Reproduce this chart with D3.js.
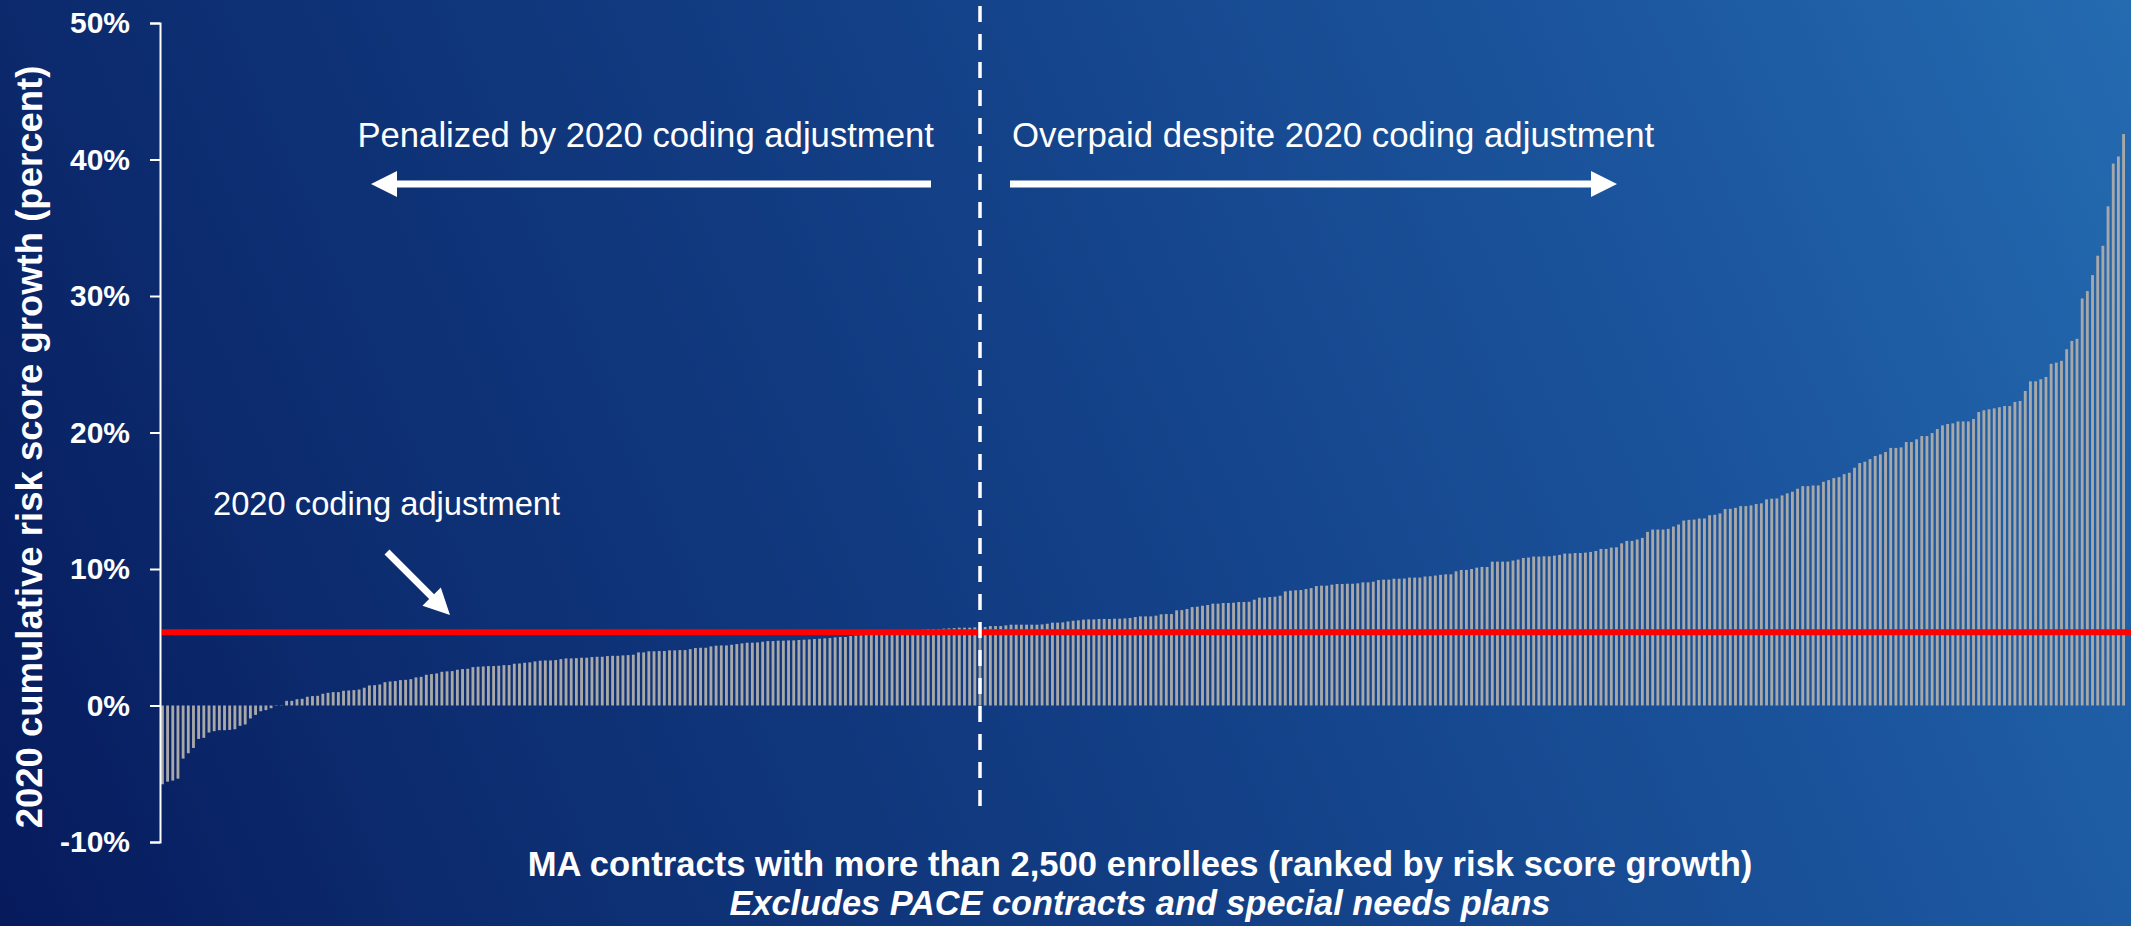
<!DOCTYPE html>
<html>
<head>
<meta charset="utf-8">
<script src="https://d3js.org/d3.v7.min.js"></script>
<style>
  body { margin: 0; overflow: hidden; background: #0b2665; }
  svg { display: block; }
  text { font-family: Arial, "Liberation Sans", sans-serif; fill: #fff; }
</style>
</head>
<body>
<svg id="chart" width="2131" height="926"></svg>
<script>

// cumulative 2020 risk score growth (percent), one value per MA contract, ranked
var riskGrowth = [
  -5.77, -5.58, -5.50, -5.36, -3.89, -3.50, -3.11, -2.45, -2.37, -1.98,
  -1.88, -1.81, -1.81, -1.79, -1.74, -1.49, -1.39, -0.95, -0.69, -0.42,
  -0.34, -0.20, -0.03, 0.02, 0.34, 0.34, 0.46, 0.49, 0.64, 0.69,
  0.71, 0.86, 0.93, 0.98, 0.98, 1.08, 1.10, 1.13, 1.17, 1.30,
  1.47, 1.49, 1.54, 1.71, 1.76, 1.79, 1.86, 1.88, 1.93, 2.06,
  2.10, 2.25, 2.30, 2.35, 2.47, 2.50, 2.52, 2.62, 2.67, 2.69,
  2.81, 2.84, 2.86, 2.89, 2.89, 2.91, 2.96, 2.96, 3.06, 3.08,
  3.13, 3.16, 3.23, 3.28, 3.30, 3.30, 3.33, 3.40, 3.45, 3.45,
  3.47, 3.50, 3.50, 3.55, 3.57, 3.57, 3.62, 3.64, 3.64, 3.67,
  3.69, 3.72, 3.89, 3.89, 3.97, 3.97, 3.99, 3.99, 4.04, 4.04,
  4.06, 4.06, 4.13, 4.21, 4.23, 4.23, 4.33, 4.38, 4.40, 4.40,
  4.45, 4.50, 4.55, 4.60, 4.60, 4.62, 4.67, 4.72, 4.72, 4.75,
  4.75, 4.77, 4.77, 4.80, 4.82, 4.84, 4.87, 4.89, 4.92, 4.94,
  4.99, 5.02, 5.02, 5.09, 5.12, 5.14, 5.17, 5.20, 5.21, 5.25,
  5.27, 5.31, 5.33, 5.36, 5.41, 5.44, 5.50, 5.56, 5.60, 5.60,
  5.60, 5.63, 5.65, 5.67, 5.70, 5.70, 5.70, 5.72, 5.75, 5.75,
  5.82, 5.82, 5.82, 5.87, 5.92, 5.92, 5.92, 5.92, 5.92, 5.92,
  5.94, 5.99, 6.07, 6.07, 6.09, 6.16, 6.21, 6.24, 6.29, 6.31,
  6.31, 6.34, 6.34, 6.34, 6.36, 6.36, 6.38, 6.41, 6.48, 6.53,
  6.53, 6.53, 6.58, 6.68, 6.70, 6.70, 6.97, 6.99, 7.07, 7.21,
  7.24, 7.31, 7.36, 7.46, 7.46, 7.51, 7.51, 7.53, 7.58, 7.58,
  7.60, 7.75, 7.90, 7.90, 7.95, 7.97, 8.04, 8.36, 8.41, 8.44,
  8.46, 8.53, 8.60, 8.75, 8.78, 8.78, 8.85, 8.90, 8.90, 8.92,
  8.92, 8.95, 9.02, 9.02, 9.07, 9.19, 9.22, 9.22, 9.29, 9.29,
  9.30, 9.37, 9.37, 9.37, 9.45, 9.47, 9.52, 9.57, 9.61, 9.61,
  9.83, 9.93, 9.93, 10.00, 10.10, 10.15, 10.15, 10.54, 10.54, 10.54,
  10.54, 10.62, 10.69, 10.81, 10.84, 10.91, 10.91, 10.93, 10.93, 10.98,
  11.03, 11.13, 11.13, 11.17, 11.17, 11.20, 11.25, 11.32, 11.47, 11.47,
  11.57, 11.59, 11.88, 12.06, 12.06, 12.16, 12.28, 12.72, 12.89, 12.89,
  12.89, 12.94, 13.11, 13.26, 13.55, 13.60, 13.62, 13.70, 13.70, 13.94,
  13.97, 14.07, 14.39, 14.41, 14.48, 14.61, 14.61, 14.66, 14.76, 14.81,
  15.10, 15.15, 15.17, 15.39, 15.54, 15.66, 15.88, 16.07, 16.07, 16.12,
  16.12, 16.39, 16.51, 16.66, 16.73, 16.95, 17.05, 17.42, 17.76, 17.86,
  18.05, 18.28, 18.40, 18.57, 18.87, 18.87, 18.91, 19.30, 19.30, 19.50,
  19.74, 19.74, 19.96, 20.25, 20.52, 20.62, 20.67, 20.81, 20.81, 20.81,
  20.99, 21.50, 21.63, 21.70, 21.77, 21.85, 21.94, 21.94, 22.24, 22.31,
  23.04, 23.75, 23.75, 23.90, 24.07, 25.03, 25.12, 25.25, 26.10, 26.71,
  26.86, 29.82, 30.36, 31.53, 32.95, 33.68, 36.57, 39.70, 40.22, 41.86
];
var contractRank = d3.range(1, riskGrowth.length + 1);
var yTicks = [-10, 0, 10, 20, 30, 40, 50];
var codingAdjustment = 5.36;   // 2020 coding adjustment (red line)
var splitRank = 159;           // contract where the dashed divider sits

var svg = d3.select("#chart"),
  width = +svg.attr("width"),
  height = +svg.attr("height");

// background gradient, dark navy bottom-left to lighter blue top-right
var defs = svg.append("defs");
var grad = defs.append("linearGradient")
  .attr("id", "bg")
  .attr("gradientUnits", "userSpaceOnUse")
  .attr("x1", 0).attr("y1", height)
  .attr("x2", width).attr("y2", 0);
grad.append("stop").attr("offset", "0").attr("stop-color", "#061a5c");
grad.append("stop").attr("offset", "0.18").attr("stop-color", "#0c2b6e");
grad.append("stop").attr("offset", "0.5").attr("stop-color", "#134087");
grad.append("stop").attr("offset", "0.8").attr("stop-color", "#1c579f");
grad.append("stop").attr("offset", "1").attr("stop-color", "#246bb0");
svg.append("rect").attr("width", width).attr("height", height).attr("fill", "url(#bg)");

var x = d3.scaleBand()
  .domain(contractRank)
  .range([161, 2125])
  .paddingInner(0.45)
  .paddingOuter(0);

var y = d3.scaleLinear()
  .domain([-10, 50])
  .range([842, 23]);

// bars
svg.append("g")
  .selectAll("rect")
  .data(riskGrowth)
  .enter()
  .append("rect")
    .attr("x", function(d, i) { return x(contractRank[i]); })
    .attr("width", x.bandwidth())
    .attr("y", function(d) { return y(Math.max(0, d)); })
    .attr("height", function(d) { return Math.abs(y(d) - y(0)); })
    .attr("fill", "#a8a8a8");

// coding adjustment line
svg.append("line")
  .attr("x1", 162).attr("x2", width)
  .attr("y1", y(codingAdjustment)).attr("y2", y(codingAdjustment))
  .attr("stroke", "#ff0000")
  .attr("stroke-width", 6);

// dashed divider
var splitX = x(splitRank) + x.bandwidth() / 2;
svg.append("line")
  .attr("x1", splitX).attr("x2", splitX)
  .attr("y1", 6).attr("y2", 810)
  .attr("stroke", "#fff")
  .attr("stroke-width", 3.5)
  .attr("stroke-dasharray", "16,12");

// y axis
var yAxis = svg.append("g")
  .attr("transform", "translate(160,0)")
  .style("color", "#fff")
  .call(d3.axisLeft(y)
    .tickValues(yTicks)
    .tickSize(10)
    .tickPadding(20)
    .tickFormat(function(d) { return d + "%"; }));
yAxis.selectAll("path, line").attr("stroke-width", 2);
yAxis.selectAll("text")
  .attr("font-size", 30)
  .attr("font-weight", "bold")
  .attr("font-family", "Arial, 'Liberation Sans', sans-serif");

svg.append("text")
  .attr("transform", "translate(42,447) rotate(-90)")
  .attr("text-anchor", "middle")
  .attr("font-size", 36.5)
  .attr("font-weight", "bold")
  .text("2020 cumulative risk score growth (percent)");

// x titles
var midX = (161 + 2125) / 2;
svg.append("text")
  .attr("x", midX - 3).attr("y", 876)
  .attr("text-anchor", "middle")
  .attr("font-size", 34.6)
  .attr("font-weight", "bold")
  .text("MA contracts with more than 2,500 enrollees (ranked by risk score growth)");
svg.append("text")
  .attr("x", midX - 3).attr("y", 915)
  .attr("text-anchor", "middle")
  .attr("font-size", 34.3)
  .attr("font-weight", "bold")
  .attr("font-style", "italic")
  .text("Excludes PACE contracts and special needs plans");

// annotations
svg.append("text")
  .attr("x", 934).attr("y", 147)
  .attr("text-anchor", "end")
  .attr("font-size", 34.7)
  .text("Penalized by 2020 coding adjustment");
svg.append("text")
  .attr("x", 1012).attr("y", 147)
  .attr("font-size", 34.8)
  .text("Overpaid despite 2020 coding adjustment");
svg.append("text")
  .attr("x", 213).attr("y", 515)
  .attr("font-size", 32.7)
  .text("2020 coding adjustment");

// block arrow from (x1,y1) with the head at (x2,y2)
function arrow(x1, y1, x2, y2) {
  var len = Math.hypot(x2 - x1, y2 - y1),
    ang = Math.atan2(y2 - y1, x2 - x1) * 180 / Math.PI,
    hw = 3.5, headL = 26, headW = 13;
  svg.append("path")
    .attr("transform", "translate(" + x1 + "," + y1 + ") rotate(" + ang + ")")
    .attr("d", "M0," + (-hw) + "H" + (len - headL) + "V" + (-headW) +
      "L" + len + ",0L" + (len - headL) + "," + headW + "V" + hw + "H0Z")
    .attr("fill", "#fff");
}
arrow(931, 184, 371, 184);
arrow(1010, 184, 1617, 184);
arrow(387, 552, 450, 615);

</script>
</body>
</html>
